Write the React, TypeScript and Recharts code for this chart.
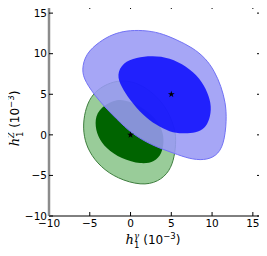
import { Scatter, ScatterChart, Symbols, XAxis, YAxis } from "recharts";

// contour outlines (units of 1e-3)
const greenOuter = [
  { x: -1.2, y: 6.75 }, { x: 0.6, y: 6.5 }, { x: 2.4, y: 5.5 }, { x: 4.3, y: 3.6 },
  { x: 5.4, y: 1.0 }, { x: 5.6, y: -0.6 }, { x: 5.4, y: -2.7 }, { x: 4.8, y: -4.5 },
  { x: 3.4, y: -5.8 }, { x: 1.3, y: -6.25 }, { x: -1.6, y: -5.4 }, { x: -3.7, y: -3.95 },
  { x: -5.1, y: -2.1 }, { x: -5.75, y: -0.2 }, { x: -5.8, y: 1.85 }, { x: -5.3, y: 3.9 },
  { x: -4.4, y: 5.3 }, { x: -2.9, y: 6.3 },
];
const greenInner = [
  { x: -0.7, y: 4.3 }, { x: 0.9, y: 3.75 }, { x: 2.9, y: 2.3 }, { x: 3.95, y: 0.6 },
  { x: 4.1, y: -0.85 }, { x: 3.85, y: -2.3 }, { x: 2.95, y: -3.35 }, { x: 1.3, y: -3.65 },
  { x: -1.15, y: -2.95 }, { x: -3.0, y: -1.7 }, { x: -4.05, y: -0.2 }, { x: -4.4, y: 1.45 },
  { x: -4.05, y: 3.1 }, { x: -2.0, y: 4.35 },
];
const blueOuter = [
  { x: -6.0, y: 8.0 }, { x: -5.5, y: 10.0 }, { x: -3.8, y: 11.5 }, { x: -2.2, y: 12.4 },
  { x: -0.5, y: 12.85 }, { x: 1.5, y: 12.9 }, { x: 3.55, y: 12.6 }, { x: 5.6, y: 11.75 },
  { x: 7.6, y: 10.75 }, { x: 9.2, y: 9.45 }, { x: 10.3, y: 7.85 }, { x: 11.1, y: 6.0 },
  { x: 11.65, y: 4.0 }, { x: 11.8, y: 1.8 }, { x: 11.45, y: -1.25 }, { x: 10.5, y: -2.65 },
  { x: 9.0, y: -3.15 }, { x: 7.2, y: -2.95 }, { x: 5.4, y: -2.3 }, { x: 2.5, y: -1.25 },
  { x: 0.1, y: 0.2 }, { x: -1.6, y: 1.85 }, { x: -4.0, y: 4.3 }, { x: -5.6, y: 6.6 },
];
const blueInner = [
  { x: -1.7, y: 7.4 }, { x: -0.95, y: 8.9 }, { x: 0.7, y: 9.55 }, { x: 2.7, y: 9.75 },
  { x: 4.8, y: 9.5 }, { x: 6.85, y: 8.45 }, { x: 8.5, y: 7.0 }, { x: 9.5, y: 5.15 },
  { x: 9.95, y: 3.5 }, { x: 9.7, y: 1.85 }, { x: 9.1, y: 0.8 }, { x: 8.05, y: 0.25 },
  { x: 6.4, y: 0.15 }, { x: 4.8, y: 0.35 }, { x: 3.15, y: 1.2 }, { x: 1.5, y: 2.45 },
  { x: -0.1, y: 4.3 }, { x: -1.15, y: 5.95 },
];
const bestFit = [
  { x: 0, y: 0 },
  { x: 5, y: 5 },
];
const ticks = [-10, -5, 0, 5, 10, 15];
const axisMin = -10;
const axisMax = 16;

const fmt = (v: number) => (v < 0 ? `\u2212${-v}` : `${v}`);
const blank = () => "";
const noShape = () => <g />;
const starShape = (p: any) => <Symbols cx={p.cx} cy={p.cy} type="star" size={14} fill="#000" />;

const AxisTitle = ({ x, y, rotate, sup }: { x: number; y: number; rotate?: boolean; sup: string }) => (
  <text
    x={x}
    y={y}
    transform={rotate ? `rotate(-90, ${x}, ${y})` : undefined}
    textAnchor="middle"
    fontFamily="DejaVu Sans"
    fontSize={12}
    fill="#000"
  >
    <tspan fontFamily="DejaVu Serif" fontStyle="italic" fontSize={13}>h</tspan>
    <tspan fontSize={8.5} fontStyle="italic" fontFamily="DejaVu Serif" dy={-5}>{sup}</tspan>
    <tspan fontSize={8.5} dx={-5} dy={9}>1</tspan>
    <tspan dy={-4}> (10</tspan>
    <tspan fontSize={8.5} dy={-5}>−3</tspan>
    <tspan dy={5}>)</tspan>
  </text>
);

const XLabel = (props: any) => {
  const { x, y, width } = props.viewBox;
  return <AxisTitle x={x + width / 2 - 2} y={y + 28} sup="γ" />;
};

const YLabel = (props: any) => {
  const { y, height } = props.viewBox;
  return <AxisTitle x={18.5} y={y + height / 2 + 8} rotate sup="Z" />;
};

const tickStyle = { fontFamily: "DejaVu Sans", fontSize: 10.5, fill: "#000" };

export default function App() {
  return (
    <div style={{ margin: -8, position: "relative", width: 267, height: 256 }}>
      <ScatterChart width={267} height={256} margin={{ top: 3, right: 4, bottom: 0, left: 0 }}>
        <XAxis
          xAxisId="x"
          dataKey="x"
          type="number"
          domain={[axisMin, axisMax]}
          ticks={ticks}
          allowDataOverflow
          height={40}
          tickSize={-4}
          tickMargin={8}
          tickFormatter={fmt}
          tick={tickStyle}
          stroke="#000"
          label={<XLabel />}
        />
        <XAxis xAxisId="xt" dataKey="x" type="number" orientation="top" domain={[axisMin, axisMax]} ticks={ticks} allowDataOverflow height={2} tickSize={-4} tickFormatter={blank} stroke="#000" />
        <YAxis
          yAxisId="y"
          dataKey="y"
          type="number"
          domain={[axisMin, axisMax]}
          ticks={ticks}
          allowDataOverflow
          width={49}
          tickSize={-4}
          tickMargin={6}
          tickFormatter={fmt}
          tick={tickStyle}
          stroke="#000"
          axisLine={{ stroke: "#8c8c8c", strokeWidth: 2.5 }}
          label={<YLabel />}
        />
        <YAxis yAxisId="yr" dataKey="y" type="number" orientation="right" domain={[axisMin, axisMax]} ticks={ticks} allowDataOverflow width={2} tickSize={-4} tickFormatter={blank} stroke="#000" />
        <Scatter data={greenOuter} xAxisId="x" yAxisId="y" shape={noShape} line={{ fill: "#008000", fillOpacity: 0.4, stroke: "#3d7d3d", strokeWidth: 1 }} lineType="joint" lineJointType="basisClosed" isAnimationActive={false} />
        <Scatter data={greenInner} xAxisId="x" yAxisId="y" shape={noShape} line={{ fill: "#006400", fillOpacity: 1, stroke: "none" }} lineType="joint" lineJointType="basisClosed" isAnimationActive={false} />
        <Scatter data={blueOuter} xAxisId="x" yAxisId="y" shape={noShape} line={{ fill: "#9a9af5", fillOpacity: 0.88, stroke: "#7272f5", strokeWidth: 1 }} lineType="joint" lineJointType="basisClosed" isAnimationActive={false} />
        <Scatter data={blueInner} xAxisId="x" yAxisId="y" shape={noShape} line={{ fill: "#0000ff", fillOpacity: 0.8, stroke: "none" }} lineType="joint" lineJointType="basisClosed" isAnimationActive={false} />
        <Scatter data={bestFit} xAxisId="x" yAxisId="y" shape={starShape} fill="#000" isAnimationActive={false} />
        <Scatter data={bestFit} xAxisId="xt" yAxisId="yr" shape={noShape} isAnimationActive={false} />
      </ScatterChart>
      {/* top and right spines of the frame */}
      <div
        style={{
          position: "absolute",
          left: 49,
          top: 5,
          width: 212,
          height: 211,
          boxSizing: "border-box",
          borderTop: "1px solid #000",
          borderRight: "1px solid #000",
          pointerEvents: "none",
        }}
      />
    </div>
  );
}
